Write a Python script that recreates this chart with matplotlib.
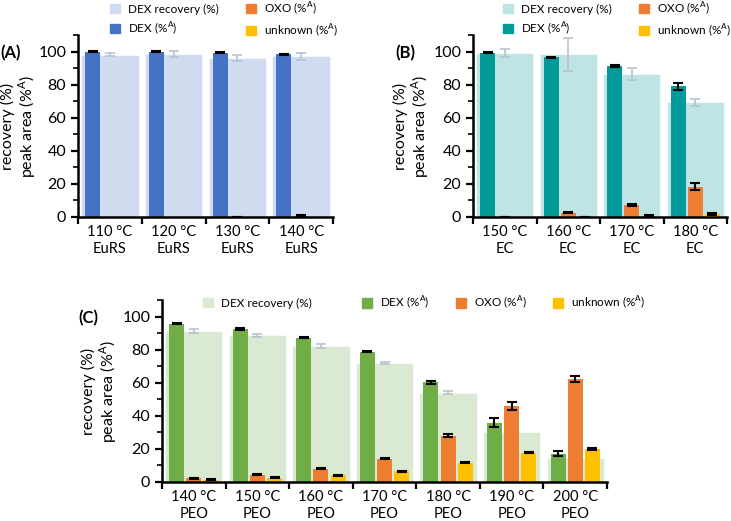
import numpy as np
import matplotlib
matplotlib.use('Agg')
import matplotlib.pyplot as plt
import matplotlib.patches as mpatches
from matplotlib.ticker import MultipleLocator

plt.rcParams['font.family'] = ['Lato', 'DejaVu Sans']

# ---- data ----
a_labels = ['110 °C\nEuRS', '120 °C\nEuRS', '130 °C\nEuRS', '140 °C\nEuRS']
a_rec = [98.4, 98.6, 96.3, 97.4]
a_rec_err = [1.0, 1.8, 1.7, 2.0]
a_dex = [100.0, 100.0, 99.6, 98.6]
a_dex_err = [0.3, 0.3, 0.3, 0.3]
a_oxo = [0.0, 0.0, 0.1, 0.8]
a_oxo_err = [0.0, 0.0, 0.1, 0.3]
a_unk = [0.0, 0.0, 0.0, 0.0]
a_unk_err = [0.0, 0.0, 0.0, 0.0]

b_labels = ['150 °C\nEC', '160 °C\nEC', '170 °C\nEC', '180 °C\nEC']
b_rec = [99.4, 98.6, 86.8, 69.5]
b_rec_err = [2.5, 9.9, 3.5, 2.0]
b_dex = [99.6, 96.8, 91.5, 79.3]
b_dex_err = [0.3, 0.4, 0.8, 2.2]
b_oxo = [0.1, 2.7, 7.2, 18.2]
b_oxo_err = [0.1, 0.4, 0.8, 2.1]
b_unk = [0.0, 0.1, 0.8, 2.0]
b_unk_err = [0.0, 0.1, 0.5, 0.5]

c_labels = ['140 °C\nPEO', '150 °C\nPEO', '160 °C\nPEO', '170 °C\nPEO',
            '180 °C\nPEO', '190 °C\nPEO', '200 °C\nPEO']
c_rec = [91.7, 88.9, 82.4, 72.1, 54.1, 30.5, 14.7]
c_rec_err = [1.2, 1.0, 1.0, 0.8, 1.0, 0.0, 0.0]
c_dex = [96.0, 92.7, 87.5, 79.0, 60.4, 36.0, 17.0]
c_dex_err = [0.4, 0.4, 0.4, 0.5, 1.0, 2.7, 1.5]
c_oxo = [2.4, 4.4, 8.1, 14.1, 28.1, 46.1, 62.6]
c_oxo_err = [0.3, 0.3, 0.3, 0.4, 0.8, 2.2, 1.8]
c_unk = [1.4, 2.6, 4.0, 6.5, 11.7, 17.8, 20.0]
c_unk_err = [0.3, 0.3, 0.4, 0.3, 0.5, 0.5, 0.6]

OXO_COL = '#ED7D31'
UNK_COL = '#FFC000'
W, H = 731, 521


def errs(ax, x, y, e, color, cap, lw):
    x, y, e = np.asarray(x), np.asarray(y), np.asarray(e)
    m = e > 0
    if m.any():
        ax.errorbar(x[m], y[m], yerr=e[m], fmt='none', ecolor=color,
                    elinewidth=lw, capsize=cap, capthick=lw, zorder=5)


def draw_panel(ax, labels, rec, rec_err, dex, dex_err, oxo, oxo_err,
               unk, unk_err, dex_col, rec_col, ylab_x):
    n = len(labels)
    x = np.arange(n) + 0.5
    w = 0.235
    off = 0.27
    ax.bar(x, rec, 0.9, color=rec_col, edgecolor='#ffffff', linewidth=0.4, zorder=1)
    ax.bar(x - off, dex, w, color=dex_col, zorder=2)
    ax.bar(x, oxo, w, color=OXO_COL, zorder=2)
    ax.bar(x + off, unk, w, color=UNK_COL, zorder=2)
    errs(ax, x, rec, rec_err, '#B9C3CC', 3.5, 1.2)
    errs(ax, x - off, dex, dex_err, 'black', 3.5, 1.5)
    errs(ax, x, oxo, oxo_err, 'black', 3.5, 1.5)
    errs(ax, x + off, unk, unk_err, 'black', 3.5, 1.5)

    ax.set_xlim(0, n)
    ax.set_ylim(0, 110)
    ax.set_xticks(np.arange(n + 1))
    ax.set_xticklabels([])
    ax.set_xticks(x, minor=True)
    ax.set_xticklabels(labels, minor=True, fontsize=10.5, linespacing=1.25)
    ax.tick_params(axis='x', which='minor', length=0, pad=6)
    ax.tick_params(axis='x', which='major', length=5, width=1.6, direction='out')
    ax.set_yticks([0, 20, 40, 60, 80, 100])
    ax.yaxis.set_minor_locator(MultipleLocator(10))
    ax.tick_params(axis='y', which='major', length=5, width=1.6, labelsize=11.5)
    ax.tick_params(axis='y', which='minor', length=3.5, width=1.2)
    for s in ['top', 'right']:
        ax.spines[s].set_visible(False)
    for s in ['left', 'bottom']:
        ax.spines[s].set_linewidth(1.8)
    ax.set_ylabel('recovery (%)\npeak area (%$^{\\mathregular{A}}$)', fontsize=11.5,
                  linespacing=1.1)
    ax.yaxis.set_label_coords(ylab_x, 0.5)


def handles(dex_col, rec_col):
    return [mpatches.Patch(color=rec_col, label='DEX recovery (%)'),
            mpatches.Patch(color=dex_col, label='DEX (%$^{\\mathregular{A}}$)'),
            mpatches.Patch(color=OXO_COL, label='OXO (%$^{\\mathregular{A}}$)'),
            mpatches.Patch(color=UNK_COL, label='unknown (%$^{\\mathregular{A}}$)')]


fig = plt.figure(figsize=(7.31, 5.21), dpi=100)

axA = fig.add_axes([78 / W, 0.5835, 255 / W, 0.3484])
draw_panel(axA, a_labels, a_rec, a_rec_err, a_dex, a_dex_err, a_oxo, a_oxo_err,
           a_unk, a_unk_err, '#4472C4', '#CFDBF0', (38 - 78) / 255)
axB = fig.add_axes([473 / W, 0.5835, 254 / W, 0.3484])
draw_panel(axB, b_labels, b_rec, b_rec_err, b_dex, b_dex_err, b_oxo, b_oxo_err,
           b_unk, b_unk_err, '#009A9A', '#BEE5E4', (431 - 473) / 254)
axC = fig.add_axes([162 / W, 0.0749, 445 / W, 0.3484])
draw_panel(axC, c_labels, c_rec, c_rec_err, c_dex, c_dex_err, c_oxo, c_oxo_err,
           c_unk, c_unk_err, '#70AD47', '#DAE9D2', (119 - 162) / 445)

leg_kw = dict(frameon=False, fontsize=8.5, handlelength=0.85, handleheight=0.85,
              handletextpad=0.7, labelspacing=0.45, borderaxespad=0, borderpad=0)
for ax, dc, rc, x0 in [(axA, '#4472C4', '#CFDBF0', 110), (axB, '#009A9A', '#BEE5E4', 503)]:
    ax.legend(handles=handles(dc, rc), ncol=2, loc='upper left',
              bbox_to_anchor=(x0 / W, 1.0), bbox_transform=fig.transFigure,
              columnspacing=2.3, **leg_kw)

hC = handles('#70AD47', '#DAE9D2')
l1 = axC.legend(handles=hC[:1], loc='center left',
                bbox_to_anchor=(203 / W, 1 - 303 / H), bbox_transform=fig.transFigure, **leg_kw)
axC.add_artist(l1)
axC.legend(handles=hC[1:], ncol=3, loc='center left',
           bbox_to_anchor=(362 / W, 1 - 303 / H), bbox_transform=fig.transFigure,
           columnspacing=2.2, **leg_kw)

fig.text(0.0, 0.899, '(A)', fontsize=12, fontweight='bold', va='center')
fig.text(0.541, 0.899, '(B)', fontsize=12, fontweight='bold', va='center')
fig.text(0.107, 0.389, '(C)', fontsize=12, fontweight='bold', va='center')

fig.savefig('out.png', dpi=100)
